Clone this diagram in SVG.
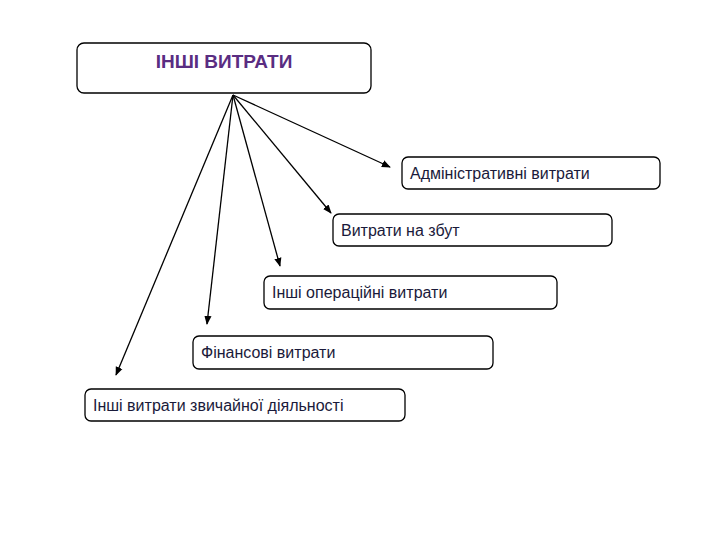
<svg xmlns="http://www.w3.org/2000/svg" width="720" height="540" viewBox="0 0 720 540">
<defs>
<style>
.box{fill:#fff;stroke:#000;stroke-width:1.3}
.t{font-family:"Liberation Sans",Arial,sans-serif;font-size:16px;fill:#1a1a3a}
.title{font-family:"Liberation Sans",Arial,sans-serif;font-size:19px;font-weight:bold;fill:#5a2d82}
.c line{stroke:#000;stroke-width:1.3;marker-end:url(#ah)}
</style>
<marker id="ah" viewBox="0 0 10 10" refX="9" refY="5" markerWidth="9" markerHeight="9" markerUnits="userSpaceOnUse" orient="auto">
<path d="M0,1 L10,5 L0,9 z" fill="#000"/>
</marker>
</defs>
<rect width="720" height="540" fill="#fff"/>
<g id="top"><rect class="box" x="77" y="43" width="294" height="50" rx="7"/><text class="title" x="224" y="68" text-anchor="middle">ІНШІ ВИТРАТИ</text></g>
<g id="n1"><rect class="box" x="402" y="157" width="258" height="32" rx="6"/><text class="t" x="410" y="179">Адміністративні витрати</text></g>
<g id="n2"><rect class="box" x="333" y="214" width="279" height="32" rx="6"/><text class="t" x="341" y="236">Витрати на збут</text></g>
<g id="n3"><rect class="box" x="264" y="276" width="293" height="33" rx="6"/><text class="t" x="272" y="298">Інші операційні витрати</text></g>
<g id="n4"><rect class="box" x="193" y="336" width="300" height="33" rx="6"/><text class="t" x="201" y="358">Фінансові витрати</text></g>
<g id="n5"><rect class="box" x="85" y="389" width="320" height="32" rx="6"/><text class="t" x="93" y="411">Інші витрати звичайної діяльності</text></g>
<g class="c" id="connectors">
<line x1="233" y1="95" x2="390" y2="167"/>
<line x1="233" y1="95" x2="331" y2="213"/>
<line x1="233" y1="95" x2="280" y2="266"/>
<line x1="233" y1="95" x2="207" y2="324"/>
<line x1="233" y1="95" x2="116" y2="375"/>
</g>
</svg>
